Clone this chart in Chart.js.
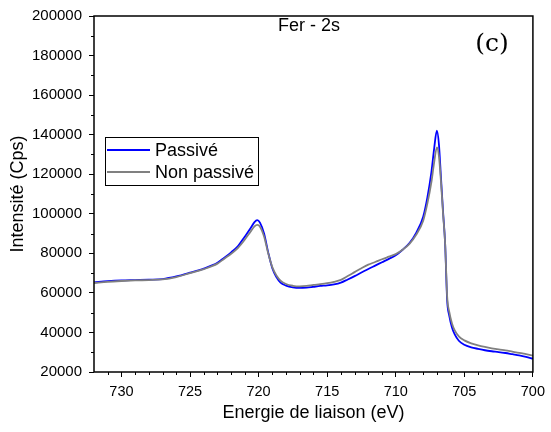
<!DOCTYPE html>
<html><head><meta charset="utf-8">
<script src="https://cdn.jsdelivr.net/npm/chart.js@4"></script>
<style>html,body{margin:0;padding:0;background:#fff}#wrap{width:551px;height:432px}</style>
</head><body><div id="wrap"><canvas id="c" width="551" height="432"></canvas></div>
<script>
const energy = [732, 731, 730, 729, 728, 727, 726, 725, 724, 723, 722.5, 722, 721.5, 721, 720.6, 720.3, 720.1, 719.9, 719.6, 719.3, 719, 718.7, 718.4, 718, 717.5, 717, 716.5, 716, 715.5, 715, 714.5, 714, 713.5, 713, 712.5, 712, 711.5, 711, 710.5, 710, 709.5, 709, 708.5, 708, 707.7, 707.4, 707.2, 707.0, 706.85, 706.7, 706.55, 706.4, 706.25, 706.1, 705.9, 705.7, 705.4, 705, 704.5, 704, 703.5, 703, 702.5, 702, 701.5, 701, 700.5, 700];
const passive = [65300, 65900, 66300, 66500, 66700, 67000, 68300, 70200, 72300, 75200, 77800, 80500, 83700, 88500, 92500, 95800, 96800, 95500, 90000, 80500, 72500, 68000, 65200, 63700, 62800, 62500, 62700, 63100, 63500, 63800, 64300, 65200, 66800, 68500, 70300, 72100, 73800, 75500, 77200, 79000, 81800, 85200, 90500, 98500, 108000, 121000, 133000, 142000, 135000, 118000, 101000, 85000, 56000, 48500, 42500, 39000, 35800, 33800, 32500, 31700, 31000, 30500, 30100, 29600, 29000, 28400, 27700, 26700];
const nonPassive = [65000, 65600, 66000, 66300, 66500, 66800, 68000, 70000, 72000, 74800, 77300, 79800, 82800, 87000, 90800, 93600, 94400, 93500, 88500, 80000, 73000, 68800, 66200, 64500, 63600, 63300, 63500, 64000, 64400, 64900, 65600, 66600, 68500, 70500, 72500, 74300, 75600, 77000, 78300, 79600, 81800, 84800, 89500, 96500, 105000, 116000, 126000, 133600, 129000, 116000, 100000, 85000, 58000, 50500, 44500, 41000, 38000, 36000, 34500, 33500, 32700, 32000, 31400, 30900, 30300, 29700, 29000, 28300];
const seriesNames = ['Passivé', 'Non passivé'];
const xTicks = [730, 725, 720, 715, 710, 705, 700];
const yTicks = [20000, 40000, 60000, 80000, 100000, 120000, 140000, 160000, 180000, 200000];
const xMinor = [731, 729, 728, 727, 726, 724, 723, 722, 721, 719, 718, 717, 716, 714, 713, 712, 711, 709, 708, 707, 706, 704, 703, 702, 701];
const yMinor = [30000, 50000, 70000, 90000, 110000, 130000, 150000, 170000, 190000];

const FONT = "'Liberation Sans', Arial, sans-serif";
const BLUE = '#0000ff';
const GRAY = '#808080';

const decor = {
  id: 'decor',
  afterDraw(chart) {
    const ctx = chart.ctx;
    const a = chart.chartArea;
    const xs = chart.scales.x, ys = chart.scales.y;
    ctx.save();
    ctx.strokeStyle = '#000';
    ctx.lineWidth = 1;
    ctx.beginPath();
    xMinor.forEach(v => { const p = Math.round(xs.getPixelForValue(v)) + 0.5; ctx.moveTo(p, a.bottom); ctx.lineTo(p, a.bottom + 3); });
    yMinor.forEach(v => { const p = Math.round(ys.getPixelForValue(v)) + 0.5; ctx.moveTo(a.left - 3, p); ctx.lineTo(a.left, p); });
    ctx.stroke();
    ctx.lineWidth = 1.5;
    ctx.strokeRect(a.left, a.top, a.right - a.left, a.bottom - a.top);
    // legend
    ctx.lineWidth = 1;
    ctx.strokeStyle = '#000';
    ctx.strokeRect(105.5, 137.5, 153, 48);
    const items = [{name: seriesNames[0], color: BLUE, y: 150}, {name: seriesNames[1], color: GRAY, y: 172}];
    ctx.font = '18px ' + FONT;
    ctx.textBaseline = 'middle';
    ctx.textAlign = 'left';
    items.forEach(it => {
      ctx.strokeStyle = it.color; ctx.lineWidth = 2;
      ctx.beginPath(); ctx.moveTo(107, it.y); ctx.lineTo(150, it.y); ctx.stroke();
      ctx.fillStyle = '#000'; ctx.fillText(it.name, 155, it.y + 1);
    });
    ctx.font = '18px ' + FONT;
    ctx.fillText('Fer - 2s', 278, 26);
    ctx.font = '25px "DejaVu Serif", serif';
    ctx.textAlign = 'center';
    ctx.fillText('(c)', 492, 44);
    ctx.restore();
  }
};

new Chart(document.getElementById('c'), {
  type: 'line',
  data: {
    datasets: [
      {label: seriesNames[1], data: energy.map((e, i) => ({x: e, y: nonPassive[i]})), borderColor: GRAY, borderWidth: 1.8, pointRadius: 0, cubicInterpolationMode: 'monotone', fill: false},
      {label: seriesNames[0], data: energy.map((e, i) => ({x: e, y: passive[i]})), borderColor: BLUE, borderWidth: 1.8, pointRadius: 0, cubicInterpolationMode: 'monotone', fill: false}
    ]
  },
  options: {
    responsive: false,
    animation: false,
    devicePixelRatio: 1,
    layout: {padding: {top: 14, right: 15, left: 0, bottom: 0}},
    plugins: {legend: {display: false}, tooltip: {enabled: false}},
    scales: {
      x: {
        type: 'linear', reverse: true, min: 700, max: 732,
        afterBuildTicks: s => { s.ticks = xTicks.map(v => ({value: v})); },
        afterFit: s => { s.height = 60; },
        border: {display: false},
        grid: {drawOnChartArea: false, drawTicks: true, tickLength: 5, color: '#000', tickColor: '#000', lineWidth: 1},
        ticks: {color: '#000', font: {family: FONT, size: 14.5}, padding: 6, maxRotation: 0, callback: v => String(v)},
        title: {display: true, text: 'Energie de liaison (eV)', color: '#000', font: {family: FONT, size: 18}, padding: {top: 0, bottom: 8}}
      },
      y: {
        type: 'linear', min: 20000, max: 200000,
        afterBuildTicks: s => { s.ticks = yTicks.map(v => ({value: v})); },
        afterFit: s => { s.width = 94; },
        border: {display: false},
        grid: {drawOnChartArea: false, drawTicks: true, tickLength: 5, color: '#000', tickColor: '#000', lineWidth: 1},
        ticks: {color: '#000', font: {family: FONT, size: 15}, padding: 7, callback: v => String(v)},
        title: {display: true, text: 'Intensité (Cps)', color: '#000', font: {family: FONT, size: 18}, padding: {top: 7, bottom: 0}}
      }
    }
  },
  plugins: [decor]
});
</script></body></html>
